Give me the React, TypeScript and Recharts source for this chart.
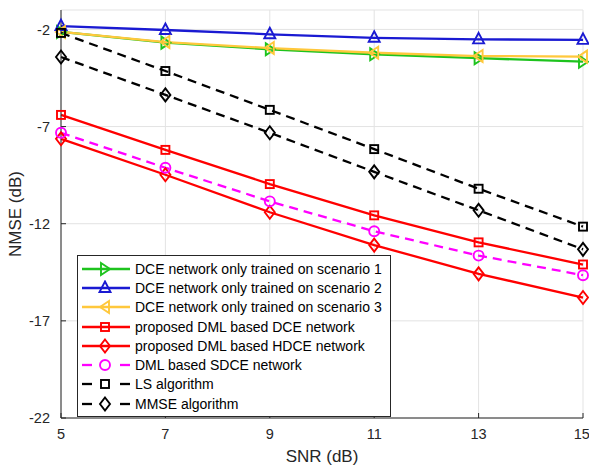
import React from 'react';
import { LineChart, Line, XAxis, YAxis, CartesianGrid, Legend } from 'recharts';

const snr = [5, 7, 9, 11, 13, 15];
const xTicks = [5, 7, 9, 11, 13, 15];
const yTicks = [-22, -17, -12, -7, -2];

const dceS1 = [-2.13, -2.68, -3.02, -3.28, -3.48, -3.66];
const dceS2 = [-1.83, -2.03, -2.25, -2.43, -2.51, -2.54];
const dceS3 = [-2.13, -2.65, -2.96, -3.2, -3.37, -3.4];
const dmlDce = [-6.4, -8.2, -9.96, -11.57, -12.96, -14.1];
const dmlHdce = [-7.63, -9.48, -11.41, -13.1, -14.58, -15.8];
const dmlSdce = [-7.32, -9.12, -10.85, -12.39, -13.64, -14.65];
const ls = [-2.18, -4.14, -6.14, -8.16, -10.2, -12.15];
const mmse = [-3.42, -5.37, -7.32, -9.33, -11.31, -13.32];

const data = snr.map((s, i) => ({
  snr: s,
  s1: dceS1[i],
  s2: dceS2[i],
  s3: dceS3[i],
  dce: dmlDce[i],
  hdce: dmlHdce[i],
  sdce: dmlSdce[i],
  ls: ls[i],
  mmse: mmse[i],
}));

type Marker = 'right' | 'up' | 'left' | 'square' | 'diamond' | 'circle';

const series: { key: string; name: string; color: string; marker: Marker; dash?: string }[] = [
  { key: 's1', name: 'DCE network only trained on scenario 1', color: '#1ec31e', marker: 'right' },
  { key: 's2', name: 'DCE network only trained on scenario 2', color: '#1a1ad2', marker: 'up' },
  { key: 's3', name: 'DCE network only trained on scenario 3', color: '#ffc83c', marker: 'left' },
  { key: 'dce', name: 'proposed DML based DCE network', color: '#ff0000', marker: 'square' },
  { key: 'hdce', name: 'proposed DML based HDCE network', color: '#ff0000', marker: 'diamond' },
  { key: 'sdce', name: 'DML based SDCE network', color: '#ff00ff', marker: 'circle', dash: '9 6' },
  { key: 'ls', name: 'LS algorithm', color: '#000000', marker: 'square', dash: '9 6' },
  { key: 'mmse', name: 'MMSE algorithm', color: '#000000', marker: 'diamond', dash: '9 6' },
];

const drawMarker = (m: Marker, cx: number, cy: number, color: string, key?: string) => {
  const p = { fill: 'none', stroke: color, strokeWidth: 1.9, key };
  switch (m) {
    case 'right':
      return <polygon {...p} points={`${cx - 4},${cy - 6} ${cx + 5},${cy} ${cx - 4},${cy + 6}`} />;
    case 'left':
      return <polygon {...p} points={`${cx + 4},${cy - 6} ${cx - 5},${cy} ${cx + 4},${cy + 6}`} />;
    case 'up':
      return <polygon {...p} points={`${cx},${cy - 6.5} ${cx + 5.5},${cy + 4} ${cx - 5.5},${cy + 4}`} />;
    case 'square':
      return <rect {...p} x={cx - 4} y={cy - 4} width={8} height={8} />;
    case 'diamond':
      return <polygon {...p} points={`${cx},${cy - 6.5} ${cx + 5},${cy} ${cx},${cy + 6.5} ${cx - 5},${cy}`} />;
    default:
      return <circle {...p} cx={cx} cy={cy} r={5} />;
  }
};

const LegendBox = () => (
  <div
    style={{
      border: '1px solid #262626',
      background: '#fff',
      padding: '3px 0 3px 3px',
      fontFamily: '"Liberation Sans", Arial, sans-serif',
      fontSize: 14,
      color: '#000',
      width: 309,
      boxSizing: 'content-box',
    }}
  >
    {series.map((s) => (
      <div key={s.key} style={{ display: 'flex', alignItems: 'center', height: 19.3 }}>
        <svg width={50} height={16} style={{ marginRight: 4, flexShrink: 0 }}>
          {s.dash ? (
            <>
              <line x1={1} y1={8} x2={11} y2={8} stroke={s.color} strokeWidth={2.3} />
              <line x1={39} y1={8} x2={49} y2={8} stroke={s.color} strokeWidth={2.3} />
            </>
          ) : (
            <line x1={1} y1={8} x2={49} y2={8} stroke={s.color} strokeWidth={2.3} />
          )}
          {drawMarker(s.marker, 24, 8, s.color)}
        </svg>
        <span style={{ whiteSpace: 'nowrap' }}>{s.name}</span>
      </div>
    ))}
  </div>
);

const YLabel = () => (
  <text x={17} y={214} transform="rotate(-90 17 214)" textAnchor="middle" dominantBaseline="middle" fontSize={17} fill="#262626">
    NMSE (dB)
  </text>
);

export default function App() {
  const font = '"Liberation Sans", Arial, sans-serif';
  return (
    <div style={{ position: 'absolute', left: 0, top: 0, width: 589, height: 469, background: '#fff', fontFamily: font }}>
      <LineChart width={589} height={469} data={data} margin={{ top: 10, right: 6, bottom: 0, left: 0 }}>
        <CartesianGrid stroke="#e3e3e3" strokeWidth={1} />
        <XAxis
          dataKey="snr"
          type="number"
          domain={[5, 15]}
          ticks={xTicks}
          height={51}
          stroke="#262626"
          tick={{ fill: '#262626', fontSize: 14.5, fontFamily: font }}
          tickSize={-5}
          tickMargin={16}
          label={{ value: 'SNR (dB)', position: 'insideBottom', offset: 7, fill: '#262626', fontSize: 17, fontFamily: font }}
        />
        <XAxis xAxisId="top" orientation="top" dataKey="snr" type="number" domain={[5, 15]} ticks={xTicks} height={0} stroke="#262626" tick={false} tickSize={-5} />
        <YAxis
          type="number"
          domain={[-22, -1]}
          ticks={yTicks}
          width={61}
          stroke="#262626"
          tick={{ fill: '#262626', fontSize: 14.5, fontFamily: font }}
          tickSize={-5}
          tickMargin={16}
          label={<YLabel />}
        />
        <YAxis yAxisId="right" orientation="right" type="number" domain={[-22, -1]} ticks={yTicks} width={0} stroke="#262626" tick={false} tickSize={-5} />
        {series.map((s) => (
          <Line
            key={s.key}
            dataKey={s.key}
            name={s.name}
            stroke={s.color}
            strokeWidth={2.3}
            strokeDasharray={s.dash}
            isAnimationActive={false}
            dot={(props: any) => drawMarker(s.marker, props.cx, props.cy, s.color, `${s.key}-${props.index}`)}
            activeDot={false}
          />
        ))}
        <Legend
          layout="vertical"
          align="center"
          verticalAlign="middle"
          content={<LegendBox />}
          wrapperStyle={{ position: 'absolute', left: 77, top: 255, width: 'auto' }}
        />
      </LineChart>
    </div>
  );
}
